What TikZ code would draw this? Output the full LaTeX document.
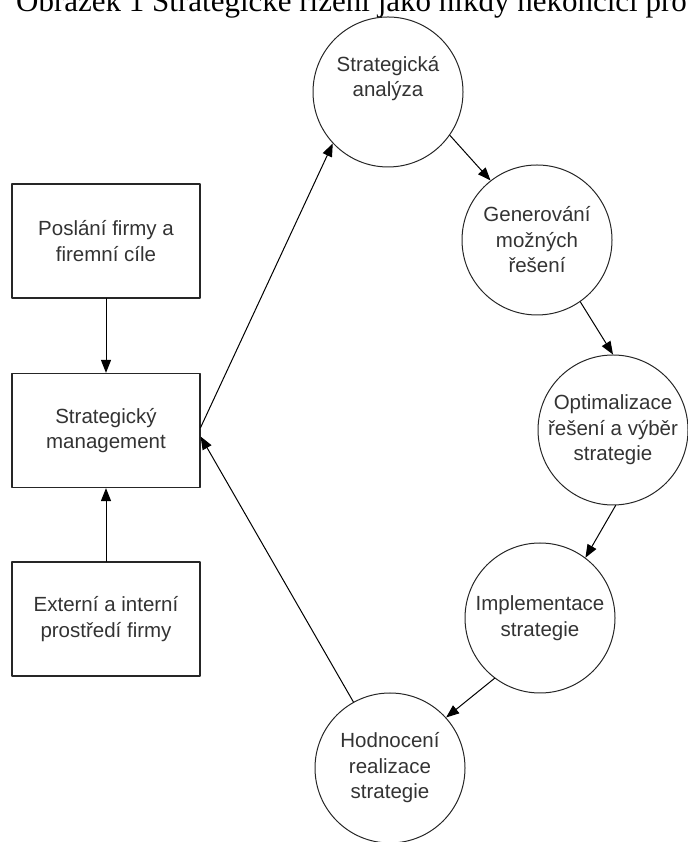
\documentclass[tikz,border=0pt]{standalone}
\usepackage{fontspec}
\setmainfont{Liberation Serif}
\newfontfamily\arialfont{Liberation Sans}
\usetikzlibrary{arrows.meta}
\begin{document}
\begin{tikzpicture}[line join=round, line cap=round,x=1pt,y=1pt]
        \definecolor{dark-gray}{rgb}{0.2, 0.2, 0.2}
        \definecolor{line-gray}{rgb}{0.15, 0.15, 0.15}
        \def\r{150pt}
        \def\w{188pt}
        \def\h{114pt}
        \tikzset{
                popis/.style={align=center,text=dark-gray,font=\arialfont\fontsize{20.5}{25.5}\selectfont},
                obdelnik/.style={popis,draw=line-gray,line width=1.2pt,minimum width=\w,minimum height=\h,inner sep=0pt},
                kruh/.style={popis,circle,draw=line-gray,line width=1pt,minimum size=\r,inner sep=0pt},
                sipka/.style={draw=black,line width=1pt,-{Triangle[length=13pt,width=10pt]}}
        }
        \useasboundingbox (0,0) rectangle (687,842);
        \path
        (106,601) coordinate (P)
        (106,411.5) coordinate (S)
        (106,223) coordinate (E)
        (388,750) coordinate (A)
        (537,602) coordinate (G)
        (613,412) coordinate (O)
        (540,224) coordinate (I)
        (390,74) coordinate (H)
        ;
        \node[anchor=base west,inner sep=0pt] (nadpis) at (16,830)
        {\fontsize{31}{34}\selectfont Obrázek 1 Strategické řízení jako nikdy nekončící pro};
        \node[obdelnik] (poslani) at (P) {Poslání firmy a\\firemní cíle};
        \node[obdelnik] (management) at (S) {Strategický\\management};
        \node[obdelnik] (prostredi) at (E) {Externí a interní\\prostředí firmy};
        \node[kruh] (analyza) at (A) {Strategická\\analýza\\[6pt]};
        \node[kruh] (generovani) at (G) {Generování\\možných\\řešení};
        \node[kruh] (optimalizace) at (O) {Optimalizace\\řešení a výběr\\strategie};
        \node[kruh] (implementace) at (I) {Implementace\\strategie};
        \node[kruh] (hodnoceni) at (H) {Hodnocení\\realizace\\strategie};
        \draw[sipka] (poslani) -- (management);
        \draw[sipka] (prostredi) -- (management);
        \draw[sipka] ([yshift=3pt]management.east) -- (analyza.223);
        \draw[sipka] (analyza.-35) -- (generovani.128);
        \draw[sipka] (generovani.-55) -- (optimalizace.90);
        \draw[sipka] (optimalizace.-88) -- (implementace.53);
        \draw[sipka] (implementace.233) -- (hodnoceni.42);
        \draw[sipka] (hodnoceni.119) -- ([yshift=-6pt]management.east);
\end{tikzpicture}
\end{document}
